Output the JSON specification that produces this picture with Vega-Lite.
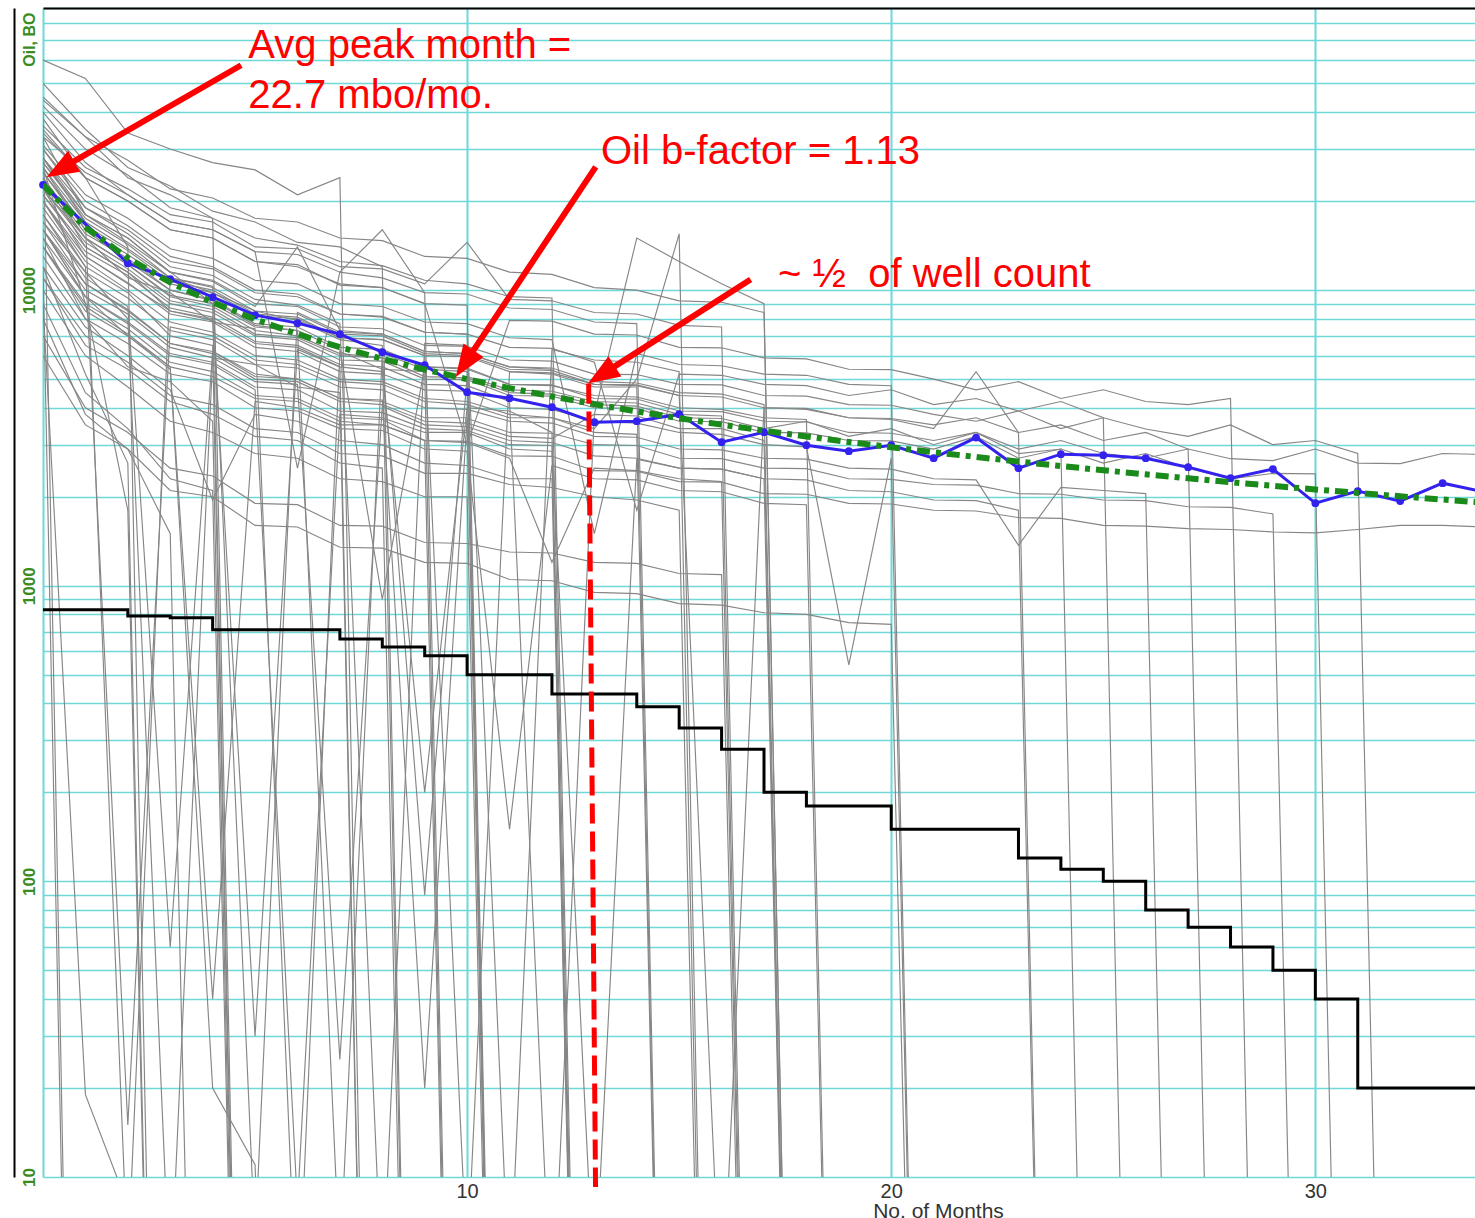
{
"$schema": "https://vega.github.io/schema/vega-lite/v6.json",
"width": 1442, "height": 1169,
"autosize": {"type": "none"},
"padding": {"left": 43, "top": 8, "right": 0, "bottom": 41},
"background": "white",
"config": {"view": {"stroke": null}, "font": "Liberation Sans"},
"resolve": {"axis": {"x": "independent", "y": "independent"}},
"datasets": {
"wells": [
{"w":1,"m":0,"v":40000},{"w":1,"m":1,"v":0.001},
{"w":2,"m":0,"v":12000},{"w":2,"m":1,"v":0.001},
{"w":3,"m":0,"v":38000},{"w":3,"m":1,"v":24000},{"w":3,"m":2,"v":14000},{"w":3,"m":3,"v":0.001},
{"w":4,"m":0,"v":12000},{"w":4,"m":1,"v":5200},{"w":4,"m":2,"v":2600},{"w":4,"m":3,"v":0.001},
{"w":5,"m":0,"v":26000},{"w":5,"m":1,"v":9000},{"w":5,"m":2,"v":1800},{"w":5,"m":3,"v":0.001},
{"w":6,"m":0,"v":9000},{"w":6,"m":1,"v":19},{"w":6,"m":2,"v":8},{"w":6,"m":3,"v":0.001},
{"w":7,"m":0,"v":8000},{"w":7,"m":1,"v":3800},{"w":7,"m":2,"v":2900},{"w":7,"m":3,"v":1500},{"w":7,"m":4,"v":0.001},
{"w":8,"m":0,"v":45000},{"w":8,"m":1,"v":33000},{"w":8,"m":2,"v":24000},{"w":8,"m":3,"v":21000},{"w":8,"m":4,"v":17500},{"w":8,"m":5,"v":0.001},
{"w":9,"m":0,"v":20000},{"w":9,"m":1,"v":12000},{"w":9,"m":2,"v":9800},{"w":9,"m":3,"v":7000},{"w":9,"m":4,"v":6500},{"w":9,"m":5,"v":0.001},
{"w":10,"m":0,"v":15000},{"w":10,"m":1,"v":8000},{"w":10,"m":2,"v":5500},{"w":10,"m":3,"v":4900},{"w":10,"m":4,"v":3600},{"w":10,"m":5,"v":0.001},
{"w":11,"m":0,"v":9000},{"w":11,"m":1,"v":4500},{"w":11,"m":2,"v":3400},{"w":11,"m":3,"v":2300},{"w":11,"m":4,"v":2100},{"w":11,"m":5,"v":0.001},
{"w":12,"m":0,"v":33000},{"w":12,"m":1,"v":18000},{"w":12,"m":2,"v":14500},{"w":12,"m":3,"v":11500},{"w":12,"m":4,"v":9000},{"w":12,"m":5,"v":0.001},
{"w":13,"m":0,"v":16000},{"w":13,"m":1,"v":9500},{"w":13,"m":2,"v":7000},{"w":13,"m":3,"v":5500},{"w":13,"m":4,"v":20},{"w":13,"m":5,"v":11},{"w":13,"m":6,"v":0.001},
{"w":14,"m":0,"v":60000},{"w":14,"m":1,"v":52000},{"w":14,"m":2,"v":34000},{"w":14,"m":3,"v":30000},{"w":14,"m":4,"v":27000},{"w":14,"m":5,"v":25500},{"w":14,"m":6,"v":21000},{"w":14,"m":7,"v":24000},{"w":14,"m":8,"v":0.001},
{"w":15,"m":0,"v":17000},{"w":15,"m":1,"v":11500},{"w":15,"m":2,"v":8000},{"w":15,"m":3,"v":4},{"w":15,"m":4,"v":5900},{"w":15,"m":5,"v":5600},{"w":15,"m":6,"v":4700},{"w":15,"m":7,"v":4500},{"w":15,"m":8,"v":0.001},
{"w":16,"m":0,"v":24000},{"w":16,"m":1,"v":14000},{"w":16,"m":2,"v":11500},{"w":16,"m":3,"v":8500},{"w":16,"m":4,"v":8000},{"w":16,"m":5,"v":30},{"w":16,"m":6,"v":6300},{"w":16,"m":7,"v":5500},{"w":16,"m":8,"v":0.001},
{"w":17,"m":0,"v":50000},{"w":17,"m":1,"v":35000},{"w":17,"m":2,"v":26000},{"w":17,"m":3,"v":22500},{"w":17,"m":4,"v":18500},{"w":17,"m":5,"v":17000},{"w":17,"m":6,"v":14500},{"w":17,"m":7,"v":14000},{"w":17,"m":8,"v":12000},{"w":17,"m":9,"v":0.001},
{"w":18,"m":0,"v":11000},{"w":18,"m":1,"v":6500},{"w":18,"m":2,"v":5400},{"w":18,"m":3,"v":4200},{"w":18,"m":4,"v":3800},{"w":18,"m":5,"v":3200},{"w":18,"m":6,"v":3100},{"w":18,"m":7,"v":2600},{"w":18,"m":8,"v":2500},{"w":18,"m":9,"v":0.001},
{"w":19,"m":0,"v":28000},{"w":19,"m":1,"v":17000},{"w":19,"m":2,"v":5},{"w":19,"m":3,"v":11000},{"w":19,"m":4,"v":9800},{"w":19,"m":5,"v":8500},{"w":19,"m":6,"v":7900},{"w":19,"m":7,"v":6800},{"w":19,"m":8,"v":6500},{"w":19,"m":9,"v":0.001},
{"w":20,"m":0,"v":22000},{"w":20,"m":1,"v":15000},{"w":20,"m":2,"v":11000},{"w":20,"m":3,"v":9800},{"w":20,"m":4,"v":7800},{"w":20,"m":5,"v":7400},{"w":20,"m":6,"v":3},{"w":20,"m":7,"v":6200},{"w":20,"m":8,"v":5400},{"w":20,"m":9,"v":5300},{"w":20,"m":10,"v":0.001},
{"w":21,"m":0,"v":40000},{"w":21,"m":1,"v":27000},{"w":21,"m":2,"v":21000},{"w":21,"m":3,"v":17000},{"w":21,"m":4,"v":16000},{"w":21,"m":5,"v":13500},{"w":21,"m":6,"v":2500},{"w":21,"m":7,"v":11500},{"w":21,"m":8,"v":11000},{"w":21,"m":9,"v":9800},{"w":21,"m":10,"v":0.001},
{"w":22,"m":0,"v":14000},{"w":22,"m":1,"v":8500},{"w":22,"m":2,"v":7000},{"w":22,"m":3,"v":5400},{"w":22,"m":4,"v":40},{"w":22,"m":5,"v":4200},{"w":22,"m":6,"v":4000},{"w":22,"m":7,"v":3500},{"w":22,"m":8,"v":3500},{"w":22,"m":9,"v":3100},{"w":22,"m":10,"v":0.001},
{"w":23,"m":0,"v":35000},{"w":23,"m":1,"v":24000},{"w":23,"m":2,"v":20000},{"w":23,"m":3,"v":16000},{"w":23,"m":4,"v":15000},{"w":23,"m":5,"v":12500},{"w":23,"m":6,"v":12000},{"w":23,"m":7,"v":10500},{"w":23,"m":8,"v":10200},{"w":23,"m":9,"v":9000},{"w":23,"m":10,"v":8900},{"w":23,"m":11,"v":0.001},
{"w":24,"m":0,"v":26000},{"w":24,"m":1,"v":16000},{"w":24,"m":2,"v":12500},{"w":24,"m":3,"v":10000},{"w":24,"m":4,"v":9200},{"w":24,"m":5,"v":7600},{"w":24,"m":6,"v":7300},{"w":24,"m":7,"v":5},{"w":24,"m":8,"v":6100},{"w":24,"m":9,"v":5400},{"w":24,"m":10,"v":5300},{"w":24,"m":11,"v":0.001},
{"w":25,"m":0,"v":18000},{"w":25,"m":1,"v":11000},{"w":25,"m":2,"v":8800},{"w":25,"m":3,"v":60},{"w":25,"m":4,"v":6200},{"w":25,"m":5,"v":5200},{"w":25,"m":6,"v":5000},{"w":25,"m":7,"v":4300},{"w":25,"m":8,"v":4200},{"w":25,"m":9,"v":3700},{"w":25,"m":10,"v":3700},{"w":25,"m":11,"v":0.001},
{"w":26,"m":0,"v":30000},{"w":26,"m":1,"v":19000},{"w":26,"m":2,"v":15500},{"w":26,"m":3,"v":12000},{"w":26,"m":4,"v":11200},{"w":26,"m":5,"v":9300},{"w":26,"m":6,"v":8900},{"w":26,"m":7,"v":7700},{"w":26,"m":8,"v":4},{"w":26,"m":9,"v":6600},{"w":26,"m":10,"v":6500},{"w":26,"m":11,"v":0.001},
{"w":27,"m":0,"v":10000},{"w":27,"m":1,"v":6000},{"w":27,"m":2,"v":4700},{"w":27,"m":3,"v":3600},{"w":27,"m":4,"v":3300},{"w":27,"m":5,"v":2800},{"w":27,"m":6,"v":2700},{"w":27,"m":7,"v":2300},{"w":27,"m":8,"v":2250},{"w":27,"m":9,"v":2000},{"w":27,"m":10,"v":2000},{"w":27,"m":11,"v":0.001},
{"w":28,"m":0,"v":22000},{"w":28,"m":1,"v":13000},{"w":28,"m":2,"v":10500},{"w":28,"m":3,"v":8500},{"w":28,"m":4,"v":7900},{"w":28,"m":5,"v":6600},{"w":28,"m":6,"v":6400},{"w":28,"m":7,"v":5500},{"w":28,"m":8,"v":5300},{"w":28,"m":9,"v":200},{"w":28,"m":10,"v":4000},{"w":28,"m":11,"v":3900},{"w":28,"m":12,"v":3300},{"w":28,"m":13,"v":0.001},
{"w":29,"m":0,"v":42000},{"w":29,"m":1,"v":30000},{"w":29,"m":2,"v":24500},{"w":29,"m":3,"v":19000},{"w":29,"m":4,"v":17500},{"w":29,"m":5,"v":15000},{"w":29,"m":6,"v":14200},{"w":29,"m":7,"v":12500},{"w":29,"m":8,"v":12100},{"w":29,"m":9,"v":10800},{"w":29,"m":10,"v":10500},{"w":29,"m":11,"v":9500},{"w":29,"m":12,"v":9400},{"w":29,"m":13,"v":0.001},
{"w":30,"m":0,"v":16000},{"w":30,"m":1,"v":9500},{"w":30,"m":2,"v":7700},{"w":30,"m":3,"v":6000},{"w":30,"m":4,"v":5600},{"w":30,"m":5,"v":4600},{"w":30,"m":6,"v":8},{"w":30,"m":7,"v":3800},{"w":30,"m":8,"v":3700},{"w":30,"m":9,"v":3300},{"w":30,"m":10,"v":3300},{"w":30,"m":11,"v":2900},{"w":30,"m":12,"v":2850},{"w":30,"m":13,"v":0.001},
{"w":31,"m":0,"v":28000},{"w":31,"m":1,"v":18000},{"w":31,"m":2,"v":15000},{"w":31,"m":3,"v":11500},{"w":31,"m":4,"v":10700},{"w":31,"m":5,"v":8800},{"w":31,"m":6,"v":14000},{"w":31,"m":7,"v":7300},{"w":31,"m":8,"v":7100},{"w":31,"m":9,"v":6200},{"w":31,"m":10,"v":6100},{"w":31,"m":11,"v":5500},{"w":31,"m":12,"v":5400},{"w":31,"m":13,"v":0.001},
{"w":32,"m":0,"v":12000},{"w":32,"m":1,"v":7500},{"w":32,"m":2,"v":6000},{"w":32,"m":3,"v":4600},{"w":32,"m":4,"v":1950},{"w":32,"m":5,"v":3800},{"w":32,"m":6,"v":3600},{"w":32,"m":7,"v":3100},{"w":32,"m":8,"v":3000},{"w":32,"m":9,"v":2600},{"w":32,"m":10,"v":2550},{"w":32,"m":11,"v":2300},{"w":32,"m":12,"v":2300},{"w":32,"m":13,"v":0.001},
{"w":33,"m":0,"v":25000},{"w":33,"m":1,"v":16000},{"w":33,"m":2,"v":13200},{"w":33,"m":3,"v":10500},{"w":33,"m":4,"v":9800},{"w":33,"m":5,"v":8200},{"w":33,"m":6,"v":8000},{"w":33,"m":7,"v":6900},{"w":33,"m":8,"v":6800},{"w":33,"m":9,"v":6000},{"w":33,"m":10,"v":5},{"w":33,"m":11,"v":5300},{"w":33,"m":12,"v":5200},{"w":33,"m":13,"v":4700},{"w":33,"m":14,"v":4700},{"w":33,"m":15,"v":0.001},
{"w":34,"m":0,"v":19000},{"w":34,"m":1,"v":12000},{"w":34,"m":2,"v":15},{"w":34,"m":3,"v":7500},{"w":34,"m":4,"v":7000},{"w":34,"m":5,"v":5800},{"w":34,"m":6,"v":5600},{"w":34,"m":7,"v":4900},{"w":34,"m":8,"v":4800},{"w":34,"m":9,"v":4200},{"w":34,"m":10,"v":4100},{"w":34,"m":11,"v":3700},{"w":34,"m":12,"v":3700},{"w":34,"m":13,"v":3300},{"w":34,"m":14,"v":3250},{"w":34,"m":15,"v":0.001},
{"w":35,"m":0,"v":33000},{"w":35,"m":1,"v":25000},{"w":35,"m":2,"v":21000},{"w":35,"m":3,"v":17000},{"w":35,"m":4,"v":16000},{"w":35,"m":5,"v":13500},{"w":35,"m":6,"v":13200},{"w":35,"m":7,"v":11500},{"w":35,"m":8,"v":16000},{"w":35,"m":9,"v":9800},{"w":35,"m":10,"v":9700},{"w":35,"m":11,"v":8700},{"w":35,"m":12,"v":8600},{"w":35,"m":13,"v":7800},{"w":35,"m":14,"v":7700},{"w":35,"m":15,"v":0.001},
{"w":36,"m":0,"v":20000},{"w":36,"m":1,"v":12500},{"w":36,"m":2,"v":10000},{"w":36,"m":3,"v":7800},{"w":36,"m":4,"v":7200},{"w":36,"m":5,"v":6000},{"w":36,"m":6,"v":5800},{"w":36,"m":7,"v":5000},{"w":36,"m":8,"v":4900},{"w":36,"m":9,"v":4300},{"w":36,"m":10,"v":4200},{"w":36,"m":11,"v":3800},{"w":36,"m":12,"v":3700},{"w":36,"m":13,"v":3400},{"w":36,"m":14,"v":5000},{"w":36,"m":15,"v":15500},{"w":36,"m":16,"v":0.001},
{"w":37,"m":0,"v":28000},{"w":37,"m":1,"v":19000},{"w":37,"m":2,"v":16000},{"w":37,"m":3,"v":12500},{"w":37,"m":4,"v":11800},{"w":37,"m":5,"v":9800},{"w":37,"m":6,"v":9500},{"w":37,"m":7,"v":8300},{"w":37,"m":8,"v":8100},{"w":37,"m":9,"v":7200},{"w":37,"m":10,"v":7100},{"w":37,"m":11,"v":4},{"w":37,"m":12,"v":6300},{"w":37,"m":13,"v":5800},{"w":37,"m":14,"v":5700},{"w":37,"m":15,"v":5300},{"w":37,"m":16,"v":0.001},
{"w":38,"m":0,"v":11000},{"w":38,"m":1,"v":7000},{"w":38,"m":2,"v":5700},{"w":38,"m":3,"v":4400},{"w":38,"m":4,"v":4100},{"w":38,"m":5,"v":3400},{"w":38,"m":6,"v":3300},{"w":38,"m":7,"v":2800},{"w":38,"m":8,"v":2750},{"w":38,"m":9,"v":2400},{"w":38,"m":10,"v":2400},{"w":38,"m":11,"v":2200},{"w":38,"m":12,"v":2150},{"w":38,"m":13,"v":2000},{"w":38,"m":14,"v":1950},{"w":38,"m":15,"v":1800},{"w":38,"m":16,"v":0.001},
{"w":39,"m":0,"v":24000},{"w":39,"m":1,"v":15000},{"w":39,"m":2,"v":12200},{"w":39,"m":3,"v":9500},{"w":39,"m":4,"v":8800},{"w":39,"m":5,"v":7300},{"w":39,"m":6,"v":7000},{"w":39,"m":7,"v":6100},{"w":39,"m":8,"v":5900},{"w":39,"m":9,"v":90},{"w":39,"m":10,"v":5100},{"w":39,"m":11,"v":4600},{"w":39,"m":12,"v":4550},{"w":39,"m":13,"v":4200},{"w":39,"m":14,"v":4150},{"w":39,"m":15,"v":3800},{"w":39,"m":16,"v":3750},{"w":39,"m":17,"v":0.001},
{"w":40,"m":0,"v":36000},{"w":40,"m":1,"v":26000},{"w":40,"m":2,"v":22000},{"w":40,"m":3,"v":18000},{"w":40,"m":4,"v":17000},{"w":40,"m":5,"v":14000},{"w":40,"m":6,"v":13800},{"w":40,"m":7,"v":12000},{"w":40,"m":8,"v":11800},{"w":40,"m":9,"v":10500},{"w":40,"m":10,"v":14500},{"w":40,"m":11,"v":9300},{"w":40,"m":12,"v":9200},{"w":40,"m":13,"v":8400},{"w":40,"m":14,"v":8300},{"w":40,"m":15,"v":7600},{"w":40,"m":16,"v":7500},{"w":40,"m":17,"v":0.001},
{"w":41,"m":0,"v":14000},{"w":41,"m":1,"v":8800},{"w":41,"m":2,"v":7100},{"w":41,"m":3,"v":5500},{"w":41,"m":4,"v":5100},{"w":41,"m":5,"v":4300},{"w":41,"m":6,"v":4200},{"w":41,"m":7,"v":3600},{"w":41,"m":8,"v":3500},{"w":41,"m":9,"v":3100},{"w":41,"m":10,"v":3050},{"w":41,"m":11,"v":2700},{"w":41,"m":12,"v":1200},{"w":41,"m":13,"v":2500},{"w":41,"m":14,"v":2450},{"w":41,"m":15,"v":2300},{"w":41,"m":16,"v":2250},{"w":41,"m":17,"v":0.001},
{"w":42,"m":0,"v":17000},{"w":42,"m":1,"v":10500},{"w":42,"m":2,"v":8500},{"w":42,"m":3,"v":6600},{"w":42,"m":4,"v":6100},{"w":42,"m":5,"v":5000},{"w":42,"m":6,"v":4900},{"w":42,"m":7,"v":4200},{"w":42,"m":8,"v":4100},{"w":42,"m":9,"v":3600},{"w":42,"m":10,"v":3550},{"w":42,"m":11,"v":3200},{"w":42,"m":12,"v":3150},{"w":42,"m":13,"v":3800},{"w":42,"m":14,"v":15000},{"w":42,"m":15,"v":12500},{"w":42,"m":16,"v":10500},{"w":42,"m":17,"v":9000},{"w":42,"m":18,"v":0.001},
{"w":43,"m":0,"v":27000},{"w":43,"m":1,"v":17500},{"w":43,"m":2,"v":14300},{"w":43,"m":3,"v":11000},{"w":43,"m":4,"v":10300},{"w":43,"m":5,"v":6},{"w":43,"m":6,"v":8400},{"w":43,"m":7,"v":7200},{"w":43,"m":8,"v":7100},{"w":43,"m":9,"v":6200},{"w":43,"m":10,"v":6100},{"w":43,"m":11,"v":5500},{"w":43,"m":12,"v":5450},{"w":43,"m":13,"v":4900},{"w":43,"m":14,"v":4850},{"w":43,"m":15,"v":4500},{"w":43,"m":16,"v":4450},{"w":43,"m":17,"v":4100},{"w":43,"m":18,"v":0.001},
{"w":44,"m":0,"v":21000},{"w":44,"m":1,"v":13500},{"w":44,"m":2,"v":11200},{"w":44,"m":3,"v":8700},{"w":44,"m":4,"v":8100},{"w":44,"m":5,"v":6700},{"w":44,"m":6,"v":6500},{"w":44,"m":7,"v":5600},{"w":44,"m":8,"v":5500},{"w":44,"m":9,"v":4800},{"w":44,"m":10,"v":4750},{"w":44,"m":11,"v":4200},{"w":44,"m":12,"v":3},{"w":44,"m":13,"v":3800},{"w":44,"m":14,"v":3750},{"w":44,"m":15,"v":3400},{"w":44,"m":16,"v":3400},{"w":44,"m":17,"v":3100},{"w":44,"m":18,"v":0.001},
{"w":45,"m":0,"v":16000},{"w":45,"m":1,"v":10000},{"w":45,"m":2,"v":8300},{"w":45,"m":3,"v":6400},{"w":45,"m":4,"v":5900},{"w":45,"m":5,"v":4900},{"w":45,"m":6,"v":4800},{"w":45,"m":7,"v":25},{"w":45,"m":8,"v":4050},{"w":45,"m":9,"v":3500},{"w":45,"m":10,"v":3450},{"w":45,"m":11,"v":3100},{"w":45,"m":12,"v":3050},{"w":45,"m":13,"v":2750},{"w":45,"m":14,"v":2700},{"w":45,"m":15,"v":2500},{"w":45,"m":16,"v":2480},{"w":45,"m":17,"v":2300},{"w":45,"m":18,"v":0.001},
{"w":46,"m":0,"v":44000},{"w":46,"m":1,"v":33000},{"w":46,"m":2,"v":27500},{"w":46,"m":3,"v":22000},{"w":46,"m":4,"v":20500},{"w":46,"m":5,"v":17500},{"w":46,"m":6,"v":17000},{"w":46,"m":7,"v":15000},{"w":46,"m":8,"v":14700},{"w":46,"m":9,"v":13000},{"w":46,"m":10,"v":12800},{"w":46,"m":11,"v":11500},{"w":46,"m":12,"v":11300},{"w":46,"m":13,"v":10200},{"w":46,"m":14,"v":10000},{"w":46,"m":15,"v":9200},{"w":46,"m":16,"v":9100},{"w":46,"m":17,"v":8400},{"w":46,"m":18,"v":0.001},
{"w":47,"m":0,"v":23000},{"w":47,"m":1,"v":15000},{"w":47,"m":2,"v":12200},{"w":47,"m":3,"v":9600},{"w":47,"m":4,"v":9000},{"w":47,"m":5,"v":7500},{"w":47,"m":6,"v":7300},{"w":47,"m":7,"v":6300},{"w":47,"m":8,"v":900},{"w":47,"m":9,"v":5500},{"w":47,"m":10,"v":5400},{"w":47,"m":11,"v":4800},{"w":47,"m":12,"v":4750},{"w":47,"m":13,"v":4400},{"w":47,"m":14,"v":4350},{"w":47,"m":15,"v":4000},{"w":47,"m":16,"v":3950},{"w":47,"m":17,"v":3700},{"w":47,"m":18,"v":3650},{"w":47,"m":19,"v":0.001},
{"w":48,"m":0,"v":13000},{"w":48,"m":1,"v":8000},{"w":48,"m":2,"v":6600},{"w":48,"m":3,"v":5200},{"w":48,"m":4,"v":4900},{"w":48,"m":5,"v":4000},{"w":48,"m":6,"v":3900},{"w":48,"m":7,"v":3400},{"w":48,"m":8,"v":3350},{"w":48,"m":9,"v":2900},{"w":48,"m":10,"v":2850},{"w":48,"m":11,"v":150},{"w":48,"m":12,"v":2550},{"w":48,"m":13,"v":2300},{"w":48,"m":14,"v":2280},{"w":48,"m":15,"v":2100},{"w":48,"m":16,"v":2080},{"w":48,"m":17,"v":1900},{"w":48,"m":18,"v":1880},{"w":48,"m":19,"v":0.001},
{"w":49,"m":0,"v":20000},{"w":49,"m":1,"v":13000},{"w":49,"m":2,"v":10600},{"w":49,"m":3,"v":8300},{"w":49,"m":4,"v":7800},{"w":49,"m":5,"v":6400},{"w":49,"m":6,"v":6200},{"w":49,"m":7,"v":5300},{"w":49,"m":8,"v":5200},{"w":49,"m":9,"v":4600},{"w":49,"m":10,"v":4550},{"w":49,"m":11,"v":4000},{"w":49,"m":12,"v":3950},{"w":49,"m":13,"v":3600},{"w":49,"m":14,"v":3550},{"w":49,"m":15,"v":3300},{"w":49,"m":16,"v":3250},{"w":49,"m":17,"v":3000},{"w":49,"m":18,"v":2950},{"w":49,"m":19,"v":540},{"w":49,"m":20,"v":2700},{"w":49,"m":21,"v":0.001},
{"w":50,"m":0,"v":31000},{"w":50,"m":1,"v":21000},{"w":50,"m":2,"v":17500},{"w":50,"m":3,"v":13800},{"w":50,"m":4,"v":12800},{"w":50,"m":5,"v":10800},{"w":50,"m":6,"v":10500},{"w":50,"m":7,"v":9000},{"w":50,"m":8,"v":8800},{"w":50,"m":9,"v":7800},{"w":50,"m":10,"v":7700},{"w":50,"m":11,"v":6900},{"w":50,"m":12,"v":6800},{"w":50,"m":13,"v":1500},{"w":50,"m":14,"v":6100},{"w":50,"m":15,"v":5600},{"w":50,"m":16,"v":5550},{"w":50,"m":17,"v":5200},{"w":50,"m":18,"v":5150},{"w":50,"m":19,"v":4800},{"w":50,"m":20,"v":4750},{"w":50,"m":21,"v":0.001},
{"w":51,"m":0,"v":26000},{"w":51,"m":1,"v":17000},{"w":51,"m":2,"v":13800},{"w":51,"m":3,"v":11000},{"w":51,"m":4,"v":10200},{"w":51,"m":5,"v":8500},{"w":51,"m":6,"v":8300},{"w":51,"m":7,"v":7100},{"w":51,"m":8,"v":7000},{"w":51,"m":9,"v":6100},{"w":51,"m":10,"v":6000},{"w":51,"m":11,"v":5400},{"w":51,"m":12,"v":5350},{"w":51,"m":13,"v":4800},{"w":51,"m":14,"v":4750},{"w":51,"m":15,"v":4400},{"w":51,"m":16,"v":4350},{"w":51,"m":17,"v":4000},{"w":51,"m":18,"v":3950},{"w":51,"m":19,"v":3700},{"w":51,"m":20,"v":3650},{"w":51,"m":21,"v":3400},{"w":51,"m":22,"v":5300},{"w":51,"m":23,"v":3300},{"w":51,"m":24,"v":0.001},
{"w":52,"m":0,"v":15000},{"w":52,"m":1,"v":9500},{"w":52,"m":2,"v":7800},{"w":52,"m":3,"v":6100},{"w":52,"m":4,"v":5700},{"w":52,"m":5,"v":4700},{"w":52,"m":6,"v":4600},{"w":52,"m":7,"v":3900},{"w":52,"m":8,"v":3850},{"w":52,"m":9,"v":3400},{"w":52,"m":10,"v":3350},{"w":52,"m":11,"v":3000},{"w":52,"m":12,"v":2980},{"w":52,"m":13,"v":4},{"w":52,"m":14,"v":2680},{"w":52,"m":15,"v":2500},{"w":52,"m":16,"v":2480},{"w":52,"m":17,"v":2300},{"w":52,"m":18,"v":2280},{"w":52,"m":19,"v":2100},{"w":52,"m":20,"v":2080},{"w":52,"m":21,"v":1950},{"w":52,"m":22,"v":1940},{"w":52,"m":23,"v":1800},{"w":52,"m":24,"v":0.001},
{"w":53,"m":0,"v":22000},{"w":53,"m":1,"v":14500},{"w":53,"m":2,"v":11800},{"w":53,"m":3,"v":9200},{"w":53,"m":4,"v":8600},{"w":53,"m":5,"v":7100},{"w":53,"m":6,"v":6900},{"w":53,"m":7,"v":6000},{"w":53,"m":8,"v":5900},{"w":53,"m":9,"v":5100},{"w":53,"m":10,"v":5050},{"w":53,"m":11,"v":4500},{"w":53,"m":12,"v":4450},{"w":53,"m":13,"v":4100},{"w":53,"m":14,"v":4050},{"w":53,"m":15,"v":3700},{"w":53,"m":16,"v":3680},{"w":53,"m":17,"v":3400},{"w":53,"m":18,"v":3600},{"w":53,"m":19,"v":3200},{"w":53,"m":20,"v":3400},{"w":53,"m":21,"v":3000},{"w":53,"m":22,"v":3300},{"w":53,"m":23,"v":2800},{"w":53,"m":24,"v":2900},{"w":53,"m":25,"v":0.001},
{"w":54,"m":0,"v":30000},{"w":54,"m":1,"v":20000},{"w":54,"m":2,"v":16500},{"w":54,"m":3,"v":13000},{"w":54,"m":4,"v":12000},{"w":54,"m":5,"v":10000},{"w":54,"m":6,"v":9700},{"w":54,"m":7,"v":8300},{"w":54,"m":8,"v":8150},{"w":54,"m":9,"v":7200},{"w":54,"m":10,"v":7100},{"w":54,"m":11,"v":6400},{"w":54,"m":12,"v":6350},{"w":54,"m":13,"v":5700},{"w":54,"m":14,"v":1800},{"w":54,"m":15,"v":5200},{"w":54,"m":16,"v":5150},{"w":54,"m":17,"v":4800},{"w":54,"m":18,"v":4750},{"w":54,"m":19,"v":4400},{"w":54,"m":20,"v":4600},{"w":54,"m":21,"v":4100},{"w":54,"m":22,"v":4300},{"w":54,"m":23,"v":3900},{"w":54,"m":24,"v":4200},{"w":54,"m":25,"v":3700},{"w":54,"m":26,"v":0.001},
{"w":55,"m":0,"v":18000},{"w":55,"m":1,"v":11500},{"w":55,"m":2,"v":9400},{"w":55,"m":3,"v":7300},{"w":55,"m":4,"v":6800},{"w":55,"m":5,"v":5600},{"w":55,"m":6,"v":5450},{"w":55,"m":7,"v":4700},{"w":55,"m":8,"v":4600},{"w":55,"m":9,"v":4000},{"w":55,"m":10,"v":3950},{"w":55,"m":11,"v":3600},{"w":55,"m":12,"v":3550},{"w":55,"m":13,"v":3200},{"w":55,"m":14,"v":3180},{"w":55,"m":15,"v":2900},{"w":55,"m":16,"v":2880},{"w":55,"m":17,"v":2700},{"w":55,"m":18,"v":2680},{"w":55,"m":19,"v":2500},{"w":55,"m":20,"v":2480},{"w":55,"m":21,"v":2300},{"w":55,"m":22,"v":2280},{"w":55,"m":23,"v":1370},{"w":55,"m":24,"v":2150},{"w":55,"m":25,"v":2100},{"w":55,"m":26,"v":2050},{"w":55,"m":27,"v":0.001},
{"w":56,"m":0,"v":25000},{"w":56,"m":1,"v":16500},{"w":56,"m":2,"v":13600},{"w":56,"m":3,"v":10700},{"w":56,"m":4,"v":10000},{"w":56,"m":5,"v":8300},{"w":56,"m":6,"v":8100},{"w":56,"m":7,"v":6900},{"w":56,"m":8,"v":6800},{"w":56,"m":9,"v":6000},{"w":56,"m":10,"v":5950},{"w":56,"m":11,"v":5300},{"w":56,"m":12,"v":5250},{"w":56,"m":13,"v":4800},{"w":56,"m":14,"v":4780},{"w":56,"m":15,"v":4400},{"w":56,"m":16,"v":3},{"w":56,"m":17,"v":4000},{"w":56,"m":18,"v":3980},{"w":56,"m":19,"v":3700},{"w":56,"m":20,"v":3680},{"w":56,"m":21,"v":3500},{"w":56,"m":22,"v":3700},{"w":56,"m":23,"v":3300},{"w":56,"m":24,"v":3500},{"w":56,"m":25,"v":3100},{"w":56,"m":26,"v":3300},{"w":56,"m":27,"v":2900},{"w":56,"m":28,"v":0.001},
{"w":57,"m":0,"v":34000},{"w":57,"m":1,"v":24000},{"w":57,"m":2,"v":20000},{"w":57,"m":3,"v":16000},{"w":57,"m":4,"v":15000},{"w":57,"m":5,"v":12500},{"w":57,"m":6,"v":12200},{"w":57,"m":7,"v":10400},{"w":57,"m":8,"v":10200},{"w":57,"m":9,"v":9000},{"w":57,"m":10,"v":3000},{"w":57,"m":11,"v":7900},{"w":57,"m":12,"v":7850},{"w":57,"m":13,"v":7100},{"w":57,"m":14,"v":7050},{"w":57,"m":15,"v":6400},{"w":57,"m":16,"v":6380},{"w":57,"m":17,"v":5900},{"w":57,"m":18,"v":5850},{"w":57,"m":19,"v":5400},{"w":57,"m":20,"v":5380},{"w":57,"m":21,"v":5000},{"w":57,"m":22,"v":4600},{"w":57,"m":23,"v":4900},{"w":57,"m":24,"v":4300},{"w":57,"m":25,"v":4600},{"w":57,"m":26,"v":4200},{"w":57,"m":27,"v":4100},{"w":57,"m":28,"v":4300},{"w":57,"m":29,"v":0.001},
{"w":58,"m":0,"v":16000},{"w":58,"m":1,"v":10500},{"w":58,"m":2,"v":8600},{"w":58,"m":3,"v":6600},{"w":58,"m":4,"v":6200},{"w":58,"m":5,"v":5100},{"w":58,"m":6,"v":5000},{"w":58,"m":7,"v":4300},{"w":58,"m":8,"v":4250},{"w":58,"m":9,"v":20},{"w":58,"m":10,"v":3680},{"w":58,"m":11,"v":3300},{"w":58,"m":12,"v":3280},{"w":58,"m":13,"v":3000},{"w":58,"m":14,"v":2980},{"w":58,"m":15,"v":2700},{"w":58,"m":16,"v":2690},{"w":58,"m":17,"v":2500},{"w":58,"m":18,"v":2490},{"w":58,"m":19,"v":2300},{"w":58,"m":20,"v":2290},{"w":58,"m":21,"v":2200},{"w":58,"m":22,"v":2190},{"w":58,"m":23,"v":2050},{"w":58,"m":24,"v":2040},{"w":58,"m":25,"v":1950},{"w":58,"m":26,"v":1940},{"w":58,"m":27,"v":1850},{"w":58,"m":28,"v":1840},{"w":58,"m":29,"v":1750},{"w":58,"m":30,"v":0.001},
{"w":59,"m":0,"v":21000},{"w":59,"m":1,"v":14000},{"w":59,"m":2,"v":11500},{"w":59,"m":3,"v":9000},{"w":59,"m":4,"v":8400},{"w":59,"m":5,"v":7000},{"w":59,"m":6,"v":6800},{"w":59,"m":7,"v":5800},{"w":59,"m":8,"v":5750},{"w":59,"m":9,"v":5000},{"w":59,"m":10,"v":4980},{"w":59,"m":11,"v":4400},{"w":59,"m":12,"v":4380},{"w":59,"m":13,"v":4000},{"w":59,"m":14,"v":3980},{"w":59,"m":15,"v":3600},{"w":59,"m":16,"v":3590},{"w":59,"m":17,"v":3300},{"w":59,"m":18,"v":3290},{"w":59,"m":19,"v":3100},{"w":59,"m":20,"v":3090},{"w":59,"m":21,"v":2900},{"w":59,"m":22,"v":3200},{"w":59,"m":23,"v":2700},{"w":59,"m":24,"v":2900},{"w":59,"m":25,"v":2600},{"w":59,"m":26,"v":2800},{"w":59,"m":27,"v":2500},{"w":59,"m":28,"v":2300},{"w":59,"m":29,"v":2400},{"w":59,"m":30,"v":2390},{"w":59,"m":31,"v":0.001},
{"w":60,"m":0,"v":27000},{"w":60,"m":1,"v":18000},{"w":60,"m":2,"v":15000},{"w":60,"m":3,"v":11500},{"w":60,"m":4,"v":10800},{"w":60,"m":5,"v":9000},{"w":60,"m":6,"v":8800},{"w":60,"m":7,"v":7500},{"w":60,"m":8,"v":7400},{"w":60,"m":9,"v":6500},{"w":60,"m":10,"v":6450},{"w":60,"m":11,"v":5800},{"w":60,"m":12,"v":5750},{"w":60,"m":13,"v":5200},{"w":60,"m":14,"v":5180},{"w":60,"m":15,"v":4800},{"w":60,"m":16,"v":4780},{"w":60,"m":17,"v":4400},{"w":60,"m":18,"v":4380},{"w":60,"m":19,"v":4100},{"w":60,"m":20,"v":4080},{"w":60,"m":21,"v":3800},{"w":60,"m":22,"v":3600},{"w":60,"m":23,"v":3900},{"w":60,"m":24,"v":3400},{"w":60,"m":25,"v":3700},{"w":60,"m":26,"v":3390},{"w":60,"m":27,"v":3200},{"w":60,"m":28,"v":3500},{"w":60,"m":29,"v":3000},{"w":60,"m":30,"v":3100},{"w":60,"m":31,"v":2800},{"w":60,"m":32,"v":0.001},
{"w":61,"m":0,"v":24000},{"w":61,"m":1,"v":15500},{"w":61,"m":2,"v":12800},{"w":61,"m":3,"v":10000},{"w":61,"m":4,"v":9300},{"w":61,"m":5,"v":7700},{"w":61,"m":6,"v":7500},{"w":61,"m":7,"v":6400},{"w":61,"m":8,"v":6300},{"w":61,"m":9,"v":5500},{"w":61,"m":10,"v":5450},{"w":61,"m":11,"v":4800},{"w":61,"m":12,"v":4780},{"w":61,"m":13,"v":4300},{"w":61,"m":14,"v":4280},{"w":61,"m":15,"v":3900},{"w":61,"m":16,"v":3880},{"w":61,"m":17,"v":3600},{"w":61,"m":18,"v":3580},{"w":61,"m":19,"v":3300},{"w":61,"m":20,"v":3280},{"w":61,"m":21,"v":3100},{"w":61,"m":22,"v":3300},{"w":61,"m":23,"v":2900},{"w":61,"m":24,"v":3100},{"w":61,"m":25,"v":2800},{"w":61,"m":26,"v":2700},{"w":61,"m":27,"v":2900},{"w":61,"m":28,"v":2690},{"w":61,"m":29,"v":2650},{"w":61,"m":30,"v":2900},{"w":61,"m":31,"v":2600},{"w":61,"m":32,"v":2590},{"w":61,"m":33,"v":2800},{"w":61,"m":34,"v":2780},
{"w":62,"m":0,"v":14000},{"w":62,"m":1,"v":9000},{"w":62,"m":2,"v":7400},{"w":62,"m":3,"v":5700},{"w":62,"m":4,"v":5300},{"w":62,"m":5,"v":4400},{"w":62,"m":6,"v":4300},{"w":62,"m":7,"v":3700},{"w":62,"m":8,"v":3650},{"w":62,"m":9,"v":3100},{"w":62,"m":10,"v":3080},{"w":62,"m":11,"v":2750},{"w":62,"m":12,"v":2740},{"w":62,"m":13,"v":2450},{"w":62,"m":14,"v":2440},{"w":62,"m":15,"v":2250},{"w":62,"m":16,"v":2240},{"w":62,"m":17,"v":2050},{"w":62,"m":18,"v":2040},{"w":62,"m":19,"v":1900},{"w":62,"m":20,"v":1890},{"w":62,"m":21,"v":1800},{"w":62,"m":22,"v":1790},{"w":62,"m":23,"v":1700},{"w":62,"m":24,"v":1690},{"w":62,"m":25,"v":1600},{"w":62,"m":26,"v":1590},{"w":62,"m":27,"v":1560},{"w":62,"m":28,"v":1550},{"w":62,"m":29,"v":1520},{"w":62,"m":30,"v":1510},{"w":62,"m":31,"v":1550},{"w":62,"m":32,"v":1600},{"w":62,"m":33,"v":1600},{"w":62,"m":34,"v":1580},
{"w":63,"m":0,"v":6000},{"w":63,"m":1,"v":3500},{"w":63,"m":2,"v":2900},{"w":63,"m":3,"v":2100},{"w":63,"m":4,"v":2000},{"w":63,"m":5,"v":1600},{"w":63,"m":6,"v":1580},{"w":63,"m":7,"v":1350},{"w":63,"m":8,"v":1340},{"w":63,"m":9,"v":1200},{"w":63,"m":10,"v":1190},{"w":63,"m":11,"v":1050},{"w":63,"m":12,"v":1040},{"w":63,"m":13,"v":950},{"w":63,"m":14,"v":940},{"w":63,"m":15,"v":870},{"w":63,"m":16,"v":860},{"w":63,"m":17,"v":810},{"w":63,"m":18,"v":800},{"w":63,"m":19,"v":750},{"w":63,"m":20,"v":740},{"w":63,"m":21,"v":0.001},
{"w":64,"m":0,"v":7000},{"w":64,"m":1,"v":4000},{"w":64,"m":2,"v":3300},{"w":64,"m":3,"v":2500},{"w":64,"m":4,"v":2350},{"w":64,"m":5,"v":1900},{"w":64,"m":6,"v":1880},{"w":64,"m":7,"v":1600},{"w":64,"m":8,"v":1590},{"w":64,"m":9,"v":1400},{"w":64,"m":10,"v":1390},{"w":64,"m":11,"v":1300},{"w":64,"m":12,"v":1290},{"w":64,"m":13,"v":1200},{"w":64,"m":14,"v":1190},{"w":64,"m":15,"v":1100},{"w":64,"m":16,"v":1090},{"w":64,"m":17,"v":0.001}
],
"count": [
{"m":0,"v":830},{"m":1,"v":830},{"m":2,"v":790},{"m":3,"v":780},{"m":4,"v":710},{"m":5,"v":710},{"m":6,"v":710},{"m":7,"v":660},{"m":8,"v":620},{"m":9,"v":580},{"m":10,"v":500},{"m":11,"v":500},{"m":12,"v":430},{"m":13,"v":430},{"m":14,"v":390},{"m":15,"v":330},{"m":16,"v":280},{"m":17,"v":200},{"m":18,"v":180},{"m":19,"v":180},{"m":20,"v":150},{"m":21,"v":150},{"m":22,"v":150},{"m":23,"v":120},{"m":24,"v":110},{"m":25,"v":100},{"m":26,"v":80},{"m":27,"v":70},{"m":28,"v":60},{"m":29,"v":50},{"m":30,"v":40},{"m":31,"v":20},{"m":32,"v":20},{"m":33,"v":20},{"m":34,"v":20}
],
"avg": [
{"m":0,"v":22700},{"m":2,"v":12330},{"m":3,"v":10890},{"m":4,"v":9464},{"m":5,"v":8227},{"m":6,"v":7731},{"m":7,"v":7095},{"m":8,"v":6166},{"m":9,"v":5572},{"m":10,"v":4515},{"m":11,"v":4309},{"m":12,"v":4018},{"m":13,"v":3574},{"m":14,"v":3602},{"m":15,"v":3804},{"m":16,"v":3059},{"m":17,"v":3306},{"m":18,"v":2988},{"m":19,"v":2853},{"m":20,"v":2988},{"m":21,"v":2701},{"m":22,"v":3170},{"m":23,"v":2499},{"m":24,"v":2787},{"m":25,"v":2765},{"m":26,"v":2701},{"m":27,"v":2518},{"m":28,"v":2312},{"m":29,"v":2480},{"m":30,"v":1902},{"m":31,"v":2089},{"m":32,"v":1933},{"m":33,"v":2223},{"m":34,"v":2073}
],
"fit": [
{"m":0,"v":22700},{"m":1,"v":16307},{"m":2,"v":12826},{"m":3,"v":10620},{"m":4,"v":9090},{"m":5,"v":7965},{"m":6,"v":7100},{"m":7,"v":6413},{"m":8,"v":5854},{"m":9,"v":5389},{"m":10,"v":4996},{"m":11,"v":4660},{"m":12,"v":4368},{"m":13,"v":4113},{"m":14,"v":3888},{"m":15,"v":3687},{"m":16,"v":3507},{"m":17,"v":3345},{"m":18,"v":3198},{"m":19,"v":3064},{"m":20,"v":2942},{"m":21,"v":2830},{"m":22,"v":2726},{"m":23,"v":2630},{"m":24,"v":2541},{"m":25,"v":2458},{"m":26,"v":2381},{"m":27,"v":2309},{"m":28,"v":2241},{"m":29,"v":2177},{"m":30,"v":2117},{"m":31,"v":2061},{"m":32,"v":2007},{"m":33,"v":1957},{"m":34,"v":1909}
],
"half": [{"m":12.866,"v":4831,"m2":13.028,"v2":9.25}],
"arrows": [
{"id":1,"m":4.672,"v":57620,"ms":0.408,"vs":25640,"mt":0.08,"vt":24090},
{"id":2,"m":13.033,"v":26100,"ms":9.941,"vs":5641,"mt":9.731,"vt":5087},
{"id":3,"m":16.684,"v":10860,"ms":13.167,"vs":5167,"mt":12.849,"vt":4831}
],
"notes": [
{"m":4.842,"v":61190,"t":"Avg peak month ="},
{"m":4.842,"v":41450,"t":"22.7 mbo/mo."},
{"m":13.156,"v":26660,"t":"Oil b-factor = 1.13"},
{"m":17.333,"v":10210,"t":"~ ½ \u00a0of well count"}
]
},
"layer": [
{
"data": {"name": "wells"},
"mark": {"type": "line", "color": "#868686", "strokeWidth": 1.15, "clip": true},
"encoding": {
"x": {"field": "m", "type": "quantitative", "scale": {"domain": [0, 34], "nice": false, "zero": false},
"axis": {"orient": "bottom", "values": [0, 10, 20, 30], "grid": true, "gridColor": "#6fd8d8", "gridWidth": 2, "domain": false, "ticks": false, "labelExpr": "datum.value == 0 ? '' : datum.label", "labelPadding": 4, "labelFont": "Liberation Sans", "labelFontSize": 20, "labelColor": "#333333", "labelFlush": false, "labelOverlap": false, "title": "No. of Months", "titleFont": "Liberation Sans", "titleFontSize": 21, "titleFontWeight": "normal", "titleColor": "#333333", "titleX": 895, "titleY": 23, "titleAlign": "center", "titleBaseline": "top"}},
"y": {"field": "v", "type": "quantitative", "scale": {"type": "log", "domain": [10, 90000], "nice": false},
"axis": {"orient": "left", "offset": 29, "values": [10,20,30,40,50,60,70,80,90,100,200,300,400,500,600,700,800,900,1000,2000,3000,4000,5000,6000,7000,8000,9000,10000,20000,30000,40000,50000,60000,70000,80000,90000], "grid": true, "gridColor": "#6fd8d8", "gridWidth": 1.5, "domain": true, "domainColor": "#000000", "domainWidth": 2, "ticks": false, "labelExpr": "datum.value == 10 || datum.value == 100 || datum.value == 1000 || datum.value == 10000 ? format(datum.value, 'd') : ''", "labelAngle": -90, "labelAlign": "center", "labelBaseline": "middle", "labelPadding": -15, "labelFont": "Liberation Sans", "labelFontSize": 17, "labelFontWeight": "bold", "labelColor": "#3a8c1c", "labelOverlap": false, "labelFlush": false, "labelBound": false, "title": "Oil, BO", "titleFont": "Liberation Sans", "titleFontSize": 16, "titleFontWeight": "bold", "titleColor": "#3a8c1c", "titleAngle": -90, "titleAlign": "right", "titleBaseline": "middle", "titleX": 15, "titleY": 4}},
"detail": {"field": "w", "type": "nominal"}
}
},
{
"data": {"name": "count"},
"mark": {"type": "line", "interpolate": "step-after", "color": "#000000", "strokeWidth": 3, "clip": true},
"encoding": {
"x": {"field": "m", "type": "quantitative", "axis": null},
"y": {"field": "v", "type": "quantitative", "axis": null}
}
},
{
"data": {"name": "avg"},
"mark": {"type": "line", "color": "#3322ee", "strokeWidth": 3, "clip": true},
"encoding": {
"x": {"field": "m", "type": "quantitative", "axis": {"orient": "top", "domain": true, "domainColor": "#000000", "domainWidth": 2, "ticks": false, "labels": false, "grid": false, "title": null}},
"y": {"field": "v", "type": "quantitative", "axis": null}
}
},
{
"data": {"name": "avg"},
"mark": {"type": "point", "filled": true, "color": "#3322ee", "size": 60, "opacity": 1},
"encoding": {
"x": {"field": "m", "type": "quantitative", "axis": null},
"y": {"field": "v", "type": "quantitative", "axis": null}
}
},
{
"data": {"name": "fit"},
"mark": {"type": "line", "color": "#1a8a1a", "strokeWidth": 6, "strokeDash": [13, 6, 5, 6], "clip": true},
"encoding": {
"x": {"field": "m", "type": "quantitative", "axis": null},
"y": {"field": "v", "type": "quantitative", "axis": null}
}
},
{
"data": {"name": "half"},
"mark": {"type": "rule", "color": "#ff0000", "strokeWidth": 5, "strokeDash": [20, 8], "clip": false},
"encoding": {
"x": {"field": "m", "type": "quantitative", "axis": null},
"x2": {"field": "m2"},
"y": {"field": "v", "type": "quantitative", "axis": null},
"y2": {"field": "v2"}
}
},
{
"data": {"name": "arrows"},
"mark": {"type": "rule", "color": "#ff0000", "strokeWidth": 6},
"encoding": {
"x": {"field": "m", "type": "quantitative", "axis": null},
"x2": {"field": "ms"},
"y": {"field": "v", "type": "quantitative", "axis": null},
"y2": {"field": "vs"}
}
},
{
"data": {"name": "arrows"},
"transform": [{"filter": "datum.id == 1"}],
"mark": {"type": "point", "shape": "M0,0L-0.75,2L0.75,2Z", "filled": true, "color": "#ff0000", "size": 1024, "angle": 240.1, "opacity": 1, "strokeWidth": 0},
"encoding": {
"x": {"field": "mt", "type": "quantitative", "axis": null},
"y": {"field": "vt", "type": "quantitative", "axis": null}
}
},
{
"data": {"name": "arrows"},
"transform": [{"filter": "datum.id == 2"}],
"mark": {"type": "point", "shape": "M0,0L-0.75,2L0.75,2Z", "filled": true, "color": "#ff0000", "size": 1024, "angle": 213.7, "opacity": 1, "strokeWidth": 0},
"encoding": {
"x": {"field": "mt", "type": "quantitative", "axis": null},
"y": {"field": "vt", "type": "quantitative", "axis": null}
}
},
{
"data": {"name": "arrows"},
"transform": [{"filter": "datum.id == 3"}],
"mark": {"type": "point", "shape": "M0,0L-0.75,2L0.75,2Z", "filled": true, "color": "#ff0000", "size": 1024, "angle": 237.4, "opacity": 1, "strokeWidth": 0},
"encoding": {
"x": {"field": "mt", "type": "quantitative", "axis": null},
"y": {"field": "vt", "type": "quantitative", "axis": null}
}
},
{
"data": {"name": "notes"},
"mark": {"type": "text", "align": "left", "baseline": "alphabetic", "font": "Liberation Sans", "fontSize": 40, "color": "#ff0000"},
"encoding": {
"x": {"field": "m", "type": "quantitative", "axis": null},
"y": {"field": "v", "type": "quantitative", "axis": null},
"text": {"field": "t", "type": "nominal"}
}
}
]
}
